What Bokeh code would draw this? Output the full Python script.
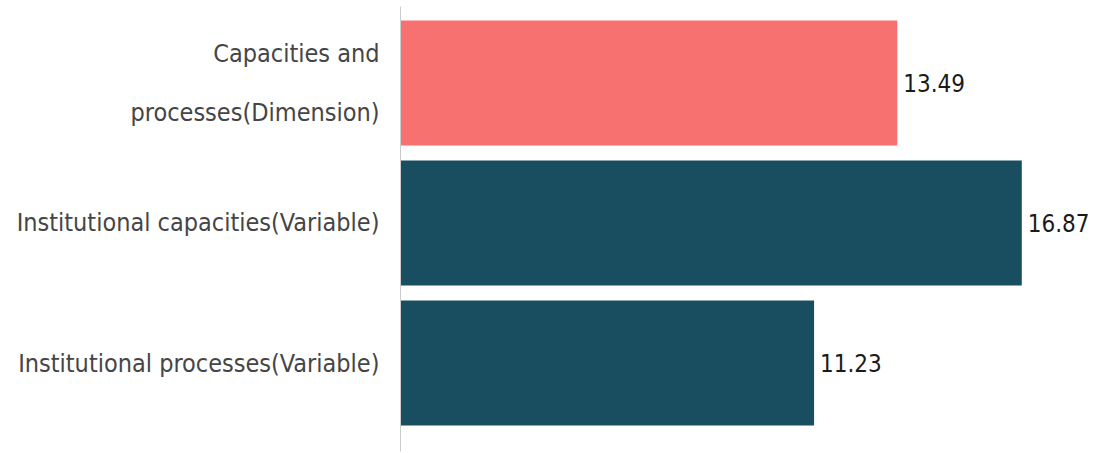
from bokeh.plotting import figure
from bokeh.models import ColumnDataSource, FixedTicker, Range1d
from bokeh.embed import file_html
from bokeh.resources import INLINE
from bokeh.core.properties import value

categories = ["Capacities and\nprocesses(Dimension)",
              "Institutional capacities(Variable)",
              "Institutional processes(Variable)"]
values = [13.49, 16.87, 11.23]
colors = ["#F77170", "#184E5F", "#184E5F"]
value_labels = ["13.49", "16.87", "11.23"]

FONT = "'DejaVu Sans Condensed', 'Open Sans', sans-serif"

ypos = [len(categories) - 1 - i for i in range(len(categories))]
src = ColumnDataSource(dict(y=ypos, v=values, c=colors, lab=value_labels,
                            lx=[v + 0.16 for v in values]))

p = figure(width=1099, height=453, output_backend="svg", toolbar_location=None,
           x_range=Range1d(0, 18.98), y_range=Range1d(-0.632, 2.546),
           min_border_left=400, min_border_right=0, min_border_top=6,
           min_border_bottom=2)
p.outline_line_color = None
p.xgrid.visible = False
p.ygrid.visible = False
p.xaxis.visible = False

p.hbar(y="y", right="v", left=0, height=0.893, fill_color="c", line_color=None, source=src)
p.text(x="lx", y="y", text="lab", source=src, text_font=value(FONT),
       text_font_size="24px", text_baseline="middle", text_align="left",
       text_color="#1a1a1a")

ax = p.yaxis[0]
ax.ticker = FixedTicker(ticks=ypos)
ax.major_label_overrides = {y: c for y, c in zip(ypos, categories)}
ax.major_tick_line_color = None
ax.minor_tick_line_color = None
ax.axis_line_color = "#cccccc"
ax.major_label_standoff = 15
ax.major_label_text_font = FONT
ax.major_label_text_font_size = "25px"
ax.major_label_text_color = "#454545"
ax.major_label_text_line_height = 2.05

open("out.html", "w").write(file_html(p, INLINE))
